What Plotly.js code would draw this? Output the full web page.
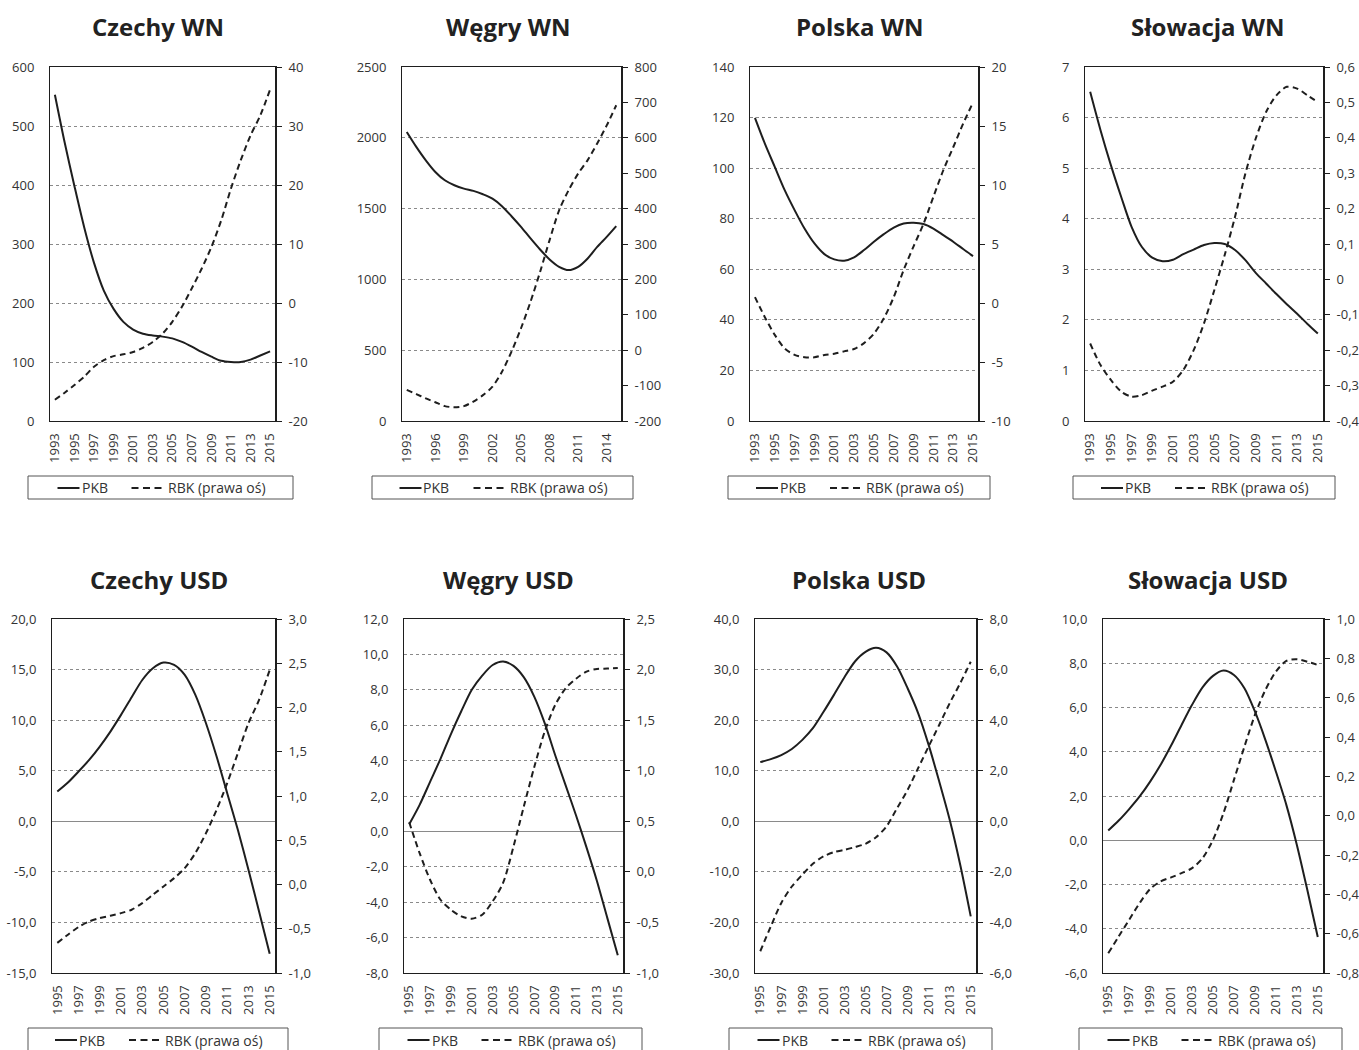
<!DOCTYPE html>
<html><head><meta charset="utf-8">
<script src="https://cdn.plot.ly/plotly-3.0.1.min.js"></script>
<style>body{margin:0;background:#fff}</style>
</head><body><div id="chart" style="width:1359px;height:1050px"></div>
<script>
// ---------- DATA ----------
const yearsWN  = [1993,1994,1995,1996,1997,1998,1999,2000,2001,2002,2003,2004,2005,2006,2007,2008,2009,2010,2011,2012,2013,2014,2015];
const yearsUSD = [1995,1996,1997,1998,1999,2000,2001,2002,2003,2004,2005,2006,2007,2008,2009,2010,2011,2012,2013,2014,2015];

const titles = ['Czechy WN','Węgry WN','Polska WN','Słowacja WN','Czechy USD','Węgry USD','Polska USD','Słowacja USD'];
const seriesNames = ['PKB','RBK (prawa oś)'];

const czWN_pkb = [553,472,398,328,268,221,190,168,155,148,145,143,140,134,126,117,109,102,100,100,104,111,118];
const czWN_rbk = [-16.4,-15.2,-13.9,-12.5,-10.8,-9.7,-9.0,-8.7,-8.3,-7.6,-6.6,-5.2,-3.2,-0.6,2.5,5.8,9.5,14.0,19.4,24.2,28.4,31.8,36.2];
const huWN_pkb = [2041,1936,1841,1759,1700,1665,1641,1625,1601,1570,1517,1446,1371,1289,1211,1141,1089,1066,1089,1148,1230,1300,1376];
const huWN_rbk = [-112,-124,-136,-147,-158,-161,-158,-145,-127,-103,-61,-4,62,137,221,311,395,452,499,537,584,635,692];
const plWN_pkb = [119.9,109.7,100.5,91.3,83.4,76.1,70.2,66.0,63.9,63.4,64.7,67.6,70.9,73.9,76.5,78.1,78.4,77.9,76.1,73.5,70.9,68.0,65.2];
const plWN_rbk = [0.5,-1.2,-2.7,-3.85,-4.4,-4.6,-4.6,-4.4,-4.3,-4.1,-3.9,-3.4,-2.6,-1.3,0.5,2.8,4.8,6.7,9.0,11.25,13.2,15.2,17.0];
const skWN_pkb = [6.51,5.75,5.06,4.43,3.84,3.44,3.23,3.16,3.19,3.30,3.39,3.48,3.52,3.50,3.38,3.18,2.93,2.72,2.51,2.31,2.12,1.92,1.73];
const skWN_rbk = [-0.181,-0.242,-0.284,-0.317,-0.331,-0.327,-0.314,-0.303,-0.289,-0.256,-0.200,-0.124,-0.030,0.069,0.177,0.299,0.398,0.473,0.520,0.544,0.539,0.520,0.501];

const czUSD_pkb = [2.94,3.83,4.92,6.07,7.39,8.87,10.52,12.26,13.97,15.13,15.69,15.46,14.47,12.49,9.69,6.40,2.78,-0.84,-4.79,-8.91,-13.09];
const czUSD_rbk = [-0.66,-0.567,-0.48,-0.417,-0.379,-0.353,-0.323,-0.285,-0.21,-0.116,-0.022,0.072,0.185,0.355,0.58,0.844,1.145,1.483,1.822,2.086,2.424];
const huUSD_pkb = [0.4,1.5,2.8,4.1,5.5,6.8,8.0,8.8,9.4,9.6,9.35,8.7,7.6,6.1,4.3,2.6,0.9,-0.9,-2.8,-4.9,-7.0];
const huUSD_rbk = [0.49,0.185,-0.078,-0.276,-0.375,-0.44,-0.463,-0.424,-0.292,-0.11,0.25,0.65,1.04,1.39,1.65,1.815,1.91,1.98,2.006,2.01,2.016];
const plUSD_pkb = [11.7,12.3,13.1,14.3,16.1,18.4,21.6,25.0,28.5,31.6,33.5,34.3,33.4,30.6,26.3,21.4,15.1,7.9,0.3,-8.6,-18.8];
const plUSD_rbk = [-5.14,-4.16,-3.23,-2.58,-2.11,-1.68,-1.39,-1.22,-1.13,-1.02,-0.89,-0.63,-0.2,0.52,1.24,2.1,2.96,3.81,4.67,5.46,6.31];
const skUSD_pkb = [0.44,0.89,1.41,1.98,2.65,3.41,4.28,5.21,6.12,6.91,7.43,7.67,7.47,6.87,5.82,4.54,3.11,1.6,-0.2,-2.24,-4.37];
const skUSD_rbk = [-0.70,-0.614,-0.529,-0.444,-0.373,-0.334,-0.314,-0.292,-0.267,-0.216,-0.123,0.013,0.182,0.351,0.512,0.639,0.732,0.787,0.795,0.783,0.766];

// tick labels
const xTicksWN2  = ['1993','1995','1997','1999','2001','2003','2005','2007','2009','2011','2013','2015'];
const xTicksWN3  = ['1993','1996','1999','2002','2005','2008','2011','2014'];
const xTicksUSD  = ['1995','1997','1999','2001','2003','2005','2007','2009','2011','2013','2015'];

const czWN_L = ['0','100','200','300','400','500','600'];
const czWN_R = ['-20','-10','0','10','20','30','40'];
const huWN_L = ['0','500','1000','1500','2000','2500'];
const huWN_R = ['-200','-100','0','100','200','300','400','500','600','700','800'];
const plWN_L = ['0','20','40','60','80','100','120','140'];
const plWN_R = ['-10','-5','0','5','10','15','20'];
const skWN_L = ['0','1','2','3','4','5','6','7'];
const skWN_R = ['-0,4','-0,3','-0,2','-0,1','0','0,1','0,2','0,3','0,4','0,5','0,6'];
const czUSD_L = ['-15,0','-10,0','-5,0','0,0','5,0','10,0','15,0','20,0'];
const czUSD_R = ['-1,0','-0,5','0,0','0,5','1,0','1,5','2,0','2,5','3,0'];
const huUSD_L = ['-8,0','-6,0','-4,0','-2,0','0,0','2,0','4,0','6,0','8,0','10,0','12,0'];
const huUSD_R = ['-1,0','-0,5','0,0','0,5','1,0','1,5','2,0','2,5'];
const plUSD_L = ['-30,0','-20,0','-10,0','0,0','10,0','20,0','30,0','40,0'];
const plUSD_R = ['-6,0','-4,0','-2,0','0,0','2,0','4,0','6,0','8,0'];
const skUSD_L = ['-6,0','-4,0','-2,0','0,0','2,0','4,0','6,0','8,0','10,0'];
const skUSD_R = ['-0,8','-0,6','-0,4','-0,2','0,0','0,2','0,4','0,6','0,8','1,0'];

// ---------- LAYOUT GEOMETRY (pixels) ----------
const W = 1359, H = 1050;
const plotX = [[50,275],[402,621],[750,978],[1085,1323],[52,275],[404,623],[755,976],[1103,1323]];
const plotY = [[67,421],[619,973]];
const legX  = [[28,293],[372,633],[728,990],[1073,1335],[28,288],[379,642],[729,992],[1079,1342]];
const legY  = [[476,499],[1028,1060]];
const titleX = [158,508,860,1208,159,508,859,1208];
const titleY = [27,579];

const panels = [
  {x: yearsWN,  pkb: czWN_pkb,  rbk: czWN_rbk,  xt: xTicksWN2, L: czWN_L,  R: czWN_R},
  {x: yearsWN,  pkb: huWN_pkb,  rbk: huWN_rbk,  xt: xTicksWN3, L: huWN_L,  R: huWN_R},
  {x: yearsWN,  pkb: plWN_pkb,  rbk: plWN_rbk,  xt: xTicksWN2, L: plWN_L,  R: plWN_R},
  {x: yearsWN,  pkb: skWN_pkb,  rbk: skWN_rbk,  xt: xTicksWN2, L: skWN_L,  R: skWN_R},
  {x: yearsUSD, pkb: czUSD_pkb, rbk: czUSD_rbk, xt: xTicksUSD, L: czUSD_L, R: czUSD_R},
  {x: yearsUSD, pkb: huUSD_pkb, rbk: huUSD_rbk, xt: xTicksUSD, L: huUSD_L, R: huUSD_R},
  {x: yearsUSD, pkb: plUSD_pkb, rbk: plUSD_rbk, xt: xTicksUSD, L: plUSD_L, R: plUSD_R},
  {x: yearsUSD, pkb: skUSD_pkb, rbk: skUSD_rbk, xt: xTicksUSD, L: skUSD_L, R: skUSD_R}
];

const px = v => v / W;
const py = v => 1 - v / H;
const num = s => parseFloat(s.replace(',', '.'));

const INK = '#1e1e1e';
const TXT = '#333333';
const FONT = 'Open Sans, sans-serif';
const DASH = '6px,4px';
const LEGDASH = '7px,4.5px';

const traces = [];
const layout = {
  width: W, height: H,
  margin: {l: 0, r: 0, t: 0, b: 0},
  paper_bgcolor: '#ffffff', plot_bgcolor: '#ffffff',
  font: {family: FONT, size: 13, color: TXT},
  showlegend: false,
  shapes: [], annotations: []
};

panels.forEach((p, i) => {
  const n = i + 1;
  const row = i < 4 ? 0 : 1;
  const xa = 'xaxis' + (n === 1 ? '' : n);
  const xr = 'x' + (n === 1 ? '' : n);
  const yl = 2 * n - 1, yr = 2 * n;
  const ylName = 'yaxis' + (yl === 1 ? '' : yl), ylRef = 'y' + (yl === 1 ? '' : yl);
  const yrName = 'yaxis' + yr, yrRef = 'y' + yr;
  const x0 = p.x[0], x1 = p.x[p.x.length - 1];
  const Lv = p.L.map(num), Rv = p.R.map(num);

  layout[xa] = {
    domain: [px(plotX[i][0]), px(plotX[i][1])],
    anchor: ylRef,
    range: [x0 - 0.5, x1 + 0.5],
    tickmode: 'array', tickvals: p.xt.map(Number), ticktext: p.xt,
    tickangle: -90, ticks: '', ticklabelstandoff: 6,
    showgrid: false, zeroline: false,
    showline: true, mirror: true, linecolor: INK, linewidth: 1,
    tickfont: {family: FONT, size: 13, color: TXT}, fixedrange: true
  };
  layout[ylName] = {
    domain: [py(plotY[row][1]), py(plotY[row][0])],
    anchor: xr,
    range: [Lv[0], Lv[Lv.length - 1]],
    tickmode: 'array', tickvals: Lv, ticktext: p.L,
    ticks: '', ticklabelstandoff: 12,
    showgrid: true, griddash: 'dot', gridcolor: '#8a8a8a', gridwidth: 1,
    zeroline: row === 1, zerolinecolor: '#8a8a8a', zerolinewidth: 1.5,
    showline: true, linecolor: INK, linewidth: 1,
    tickfont: {family: FONT, size: 13, color: TXT}, fixedrange: true
  };
  layout[yrName] = {
    overlaying: ylRef, side: 'right', anchor: xr,
    range: [Rv[0], Rv[Rv.length - 1]],
    tickmode: 'array', tickvals: Rv, ticktext: p.R,
    ticks: 'outside', ticklen: 5, tickwidth: 1, tickcolor: INK, ticklabelstandoff: 4,
    showgrid: false, zeroline: false,
    showline: true, linecolor: INK, linewidth: 2,
    tickfont: {family: FONT, size: 13, color: TXT}, fixedrange: true
  };

  traces.push({
    type: 'scatter', mode: 'lines', name: seriesNames[0],
    x: p.x, y: p.pkb, xaxis: xr, yaxis: ylRef,
    line: {color: INK, width: 2, shape: 'spline', smoothing: 0.8},
    hoverinfo: 'skip'
  });
  traces.push({
    type: 'scatter', mode: 'lines', name: seriesNames[1],
    x: p.x, y: p.rbk, xaxis: xr, yaxis: yrRef,
    line: {color: INK, width: 2, dash: DASH, shape: 'spline', smoothing: 0.8},
    hoverinfo: 'skip'
  });

  // title
  layout.annotations.push({
    xref: 'paper', yref: 'paper', x: px(titleX[i]), y: py(titleY[row]),
    xanchor: 'center', yanchor: 'middle', showarrow: false,
    text: '<b>' + titles[i] + '</b>',
    font: {family: FONT, size: 24, color: '#222222'}
  });

  // legend box
  const lx0 = legX[i][0], lx1 = legX[i][1];
  const ly0 = legY[row][0], ly1 = legY[row][1];
  const c = (lx0 + lx1) / 2;
  const ym = ly0 + 12;
  layout.shapes.push({type: 'rect', xref: 'paper', yref: 'paper',
    x0: px(lx0), x1: px(lx1), y0: py(ly1), y1: py(ly0),
    line: {color: '#555555', width: 1}, fillcolor: 'rgba(0,0,0,0)'});
  layout.shapes.push({type: 'line', xref: 'paper', yref: 'paper',
    x0: px(c - 103), x1: px(c - 81), y0: py(ym), y1: py(ym),
    line: {color: INK, width: 2}});
  layout.shapes.push({type: 'line', xref: 'paper', yref: 'paper',
    x0: px(c - 29), x1: px(c + 2), y0: py(ym), y1: py(ym),
    line: {color: INK, width: 2, dash: LEGDASH}});
  layout.annotations.push({xref: 'paper', yref: 'paper', x: px(c - 81), y: py(ym),
    xanchor: 'left', yanchor: 'middle', showarrow: false, text: seriesNames[0],
    font: {family: FONT, size: 14, color: TXT}});
  layout.annotations.push({xref: 'paper', yref: 'paper', x: px(c + 5), y: py(ym),
    xanchor: 'left', yanchor: 'middle', showarrow: false, text: seriesNames[1],
    font: {family: FONT, size: 14, color: TXT}});
});

Plotly.newPlot('chart', traces, layout, {staticPlot: true, displayModeBar: false});
</script>
</body></html>
